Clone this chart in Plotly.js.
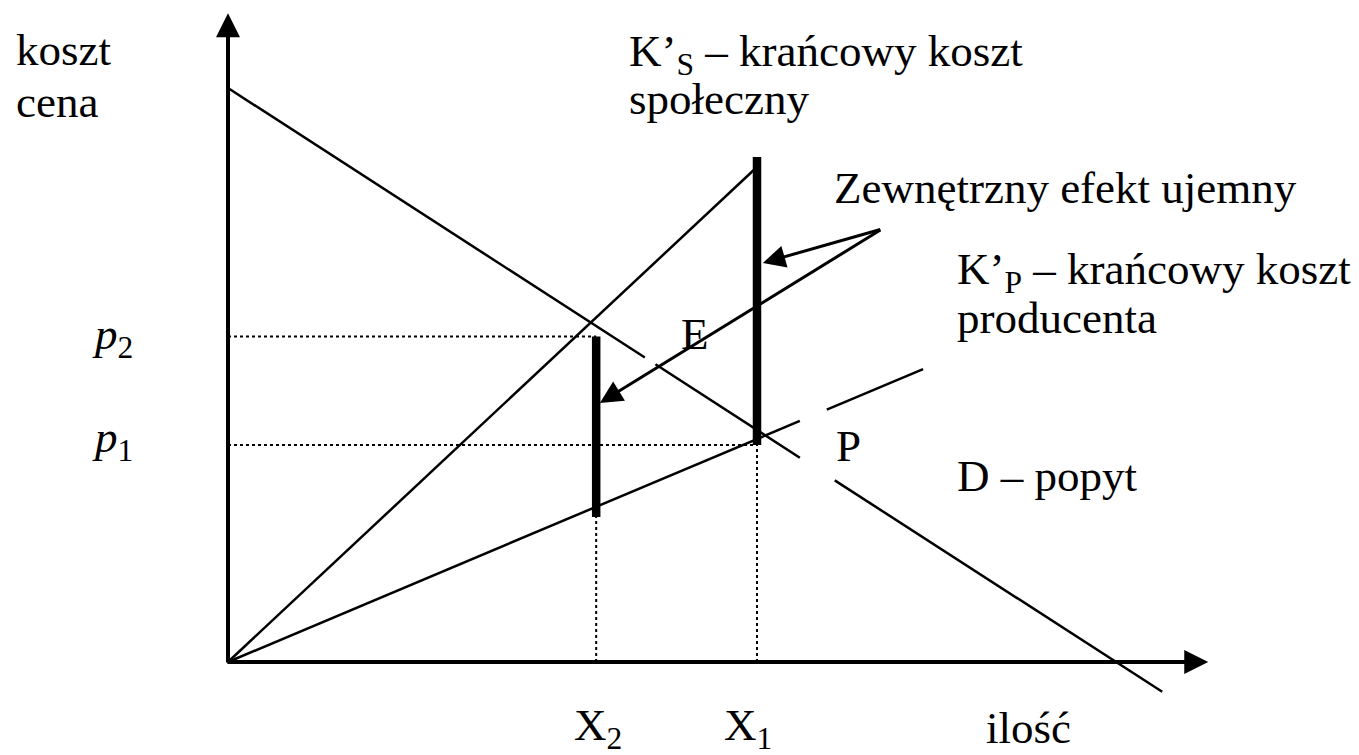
<!DOCTYPE html>
<html lang="pl">
<head>
<meta charset="utf-8">
<title>Zewnętrzny efekt ujemny</title>
<script src="https://cdn.plot.ly/plotly-3.0.1.min.js"></script>
<style>
  html, body { margin: 0; padding: 0; background: #fff; }
  #chart { width: 1359px; height: 755px; }
</style>
</head>
<body>
<div id="chart"></div>
<script>
// units: quantity on x (X1 = 10), cost / price on y (p1 = 10)
const qtyMarks = [6.96, 10];          // X2, X1
const priceMarks = [15, 10];          // p2, p1

// D - demand, broken where the arrow and the label P cross it
const demandX = [0, 7.88, null, 8.08, 10.81, null, 11.47, 17.66];
const demandY = [26.45, 14.03, null, 13.72, 9.41, null, 8.37, -1.37];

// K's - social marginal cost
const socialX = [0, 10];
const socialY = [0, 22.81];

// K'p - producer marginal cost
const producerX = [0, 10.81, null, 11.32, 13.14];
const producerY = [0, 11.11, null, 11.63, 13.50];

// external effect bars (low, high) at X1 and X2
const barX = [10, 6.96];
const barLow = [10, 6.68];
const barHigh = [23.27, 15];

// arrows from the "Zewnętrzny efekt ujemny" label
const effectTail = [12.36, 19.95];
const effectHeads = [[10.11, 18.39], [7.03, 11.94]];

// axis ends
const axisEnd = [18.53, 29.9];

const labelText = [
  'koszt', 'cena',
  'K’<sub>S</sub> – krańcowy koszt', 'społeczny',
  'Zewnętrzny efekt ujemny',
  'K’<sub>P</sub> – krańcowy koszt', 'producenta',
  'D – popyt', 'E', 'P',
  '<i>p</i><sub>2</sub>', '<i>p</i><sub>1</sub>',
  'X<sub>2</sub>', 'X<sub>1</sub>', 'ilość'
];
const labelPos = [
  [-4.05, 28.2], [-4.05, 25.8],
  [7.55, 28.0], [7.55, 25.95],
  [11.42, 21.85],
  [13.74, 17.95], [13.74, 15.85],
  [13.74, 8.55], [8.52, 15.1], [11.45, 9.95],
  [-2.6, 15.0], [-2.6, 10.25],
  [6.5, -3.05], [9.34, -3.05], [14.29, -3.05]
];

const ink = '#000';
const serif = 'Liberation Serif, Times New Roman, serif';

function seg(x, y, width, dash) {
  return {
    type: 'scatter', mode: 'lines', x: x, y: y,
    line: { color: ink, width: width, dash: dash || 'solid' },
    hoverinfo: 'skip', connectgaps: false
  };
}

// dotted guides from the axes to the bars
const guideX = [], guideY = [];
priceMarks.forEach((p, i) => { guideX.push(0, qtyMarks[i], null); guideY.push(p, p, null); });
qtyMarks.forEach((q, i) => { guideX.push(q, q, null); guideY.push(0, barLow[barX.indexOf(q)], null); });

const barsX = [], barsY = [];
barX.forEach((x, i) => { barsX.push(x, x, null); barsY.push(barLow[i], barHigh[i], null); });

const traces = [
  seg(guideX, guideY, 2, 'dot'),
  seg(demandX, demandY, 2.5),
  seg(socialX, socialY, 2.5),
  seg(producerX, producerY, 2.5),
  seg(barsX, barsY, 8.5)
];

const annotations = [];

// axes drawn as arrows from the origin
annotations.push({ x: axisEnd[0], y: 0, ax: -0.04, ay: 0, xref: 'x', yref: 'y', axref: 'x', ayref: 'y',
  text: '', showarrow: true, arrowhead: 2, arrowsize: 1.2, arrowwidth: 4, arrowcolor: ink });
annotations.push({ x: 0, y: axisEnd[1], ax: 0, ay: -0.09, xref: 'x', yref: 'y', axref: 'x', ayref: 'y',
  text: '', showarrow: true, arrowhead: 2, arrowsize: 1.2, arrowwidth: 4, arrowcolor: ink });

effectHeads.forEach(h => {
  annotations.push({ x: h[0], y: h[1], ax: effectTail[0], ay: effectTail[1],
    xref: 'x', yref: 'y', axref: 'x', ayref: 'y',
    text: '', showarrow: true, arrowhead: 2, arrowsize: 1.5, arrowwidth: 3, arrowcolor: ink });
});

labelText.forEach((t, i) => {
  annotations.push({ x: labelPos[i][0], y: labelPos[i][1], xref: 'x', yref: 'y',
    text: t, showarrow: false, xanchor: 'left', yanchor: 'middle',
    font: { family: serif, size: 45, color: ink } });
});

const layout = {
  width: 1359, height: 755,
  margin: { l: 0, r: 0, t: 0, b: 0 },
  paper_bgcolor: '#fff', plot_bgcolor: '#fff',
  showlegend: false,
  xaxis: { range: [-4.31, 21.38], visible: false, fixedrange: true },
  yaxis: { range: [-4.286, 30.507], visible: false, fixedrange: true },
  annotations: annotations
};

Plotly.newPlot('chart', traces, layout, { displayModeBar: false, staticPlot: true });
</script>
</body>
</html>
